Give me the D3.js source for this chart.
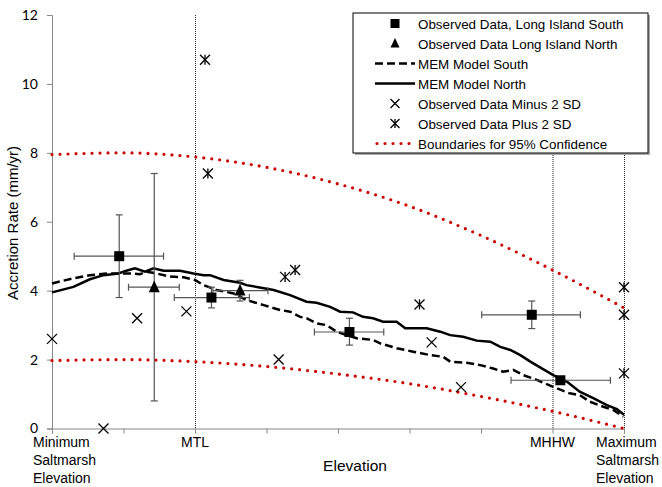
<!DOCTYPE html>
<html>
<head>
<meta charset="utf-8">
<script src="https://cdn.jsdelivr.net/npm/d3@7"></script>
<style>
  body { margin: 0; background: #fff; }
  svg { display: block; font-family: "Liberation Sans", Arial, sans-serif; }
</style>
</head>
<body>
<div id="chart"></div>
<script>
// observed data, Long Island South (squares)
const southElev = [0.94, 2.23, 4.16, 6.71, 7.11];
const southRate = [5.0, 3.8, 2.8, 3.3, 1.4];
const southElevLo = [0.31, 1.71, 3.67, 6.01, 6.42];
const southElevHi = [1.56, 2.76, 4.64, 7.39, 7.81];
const southRateLo = [3.8, 3.5, 2.42, 2.9, 1.3];
const southRateHi = [6.2, 4.1, 3.2, 3.7, 1.5];

// observed data, Long Island North (triangles)
const northElev = [1.43, 2.63];
const northRate = [4.1, 4.0];
const northElevLo = [1.07, 2.25];
const northElevHi = [1.78, 3.02];
const northRateLo = [0.8, 3.7];
const northRateHi = [7.4, 4.3];

// observed minus / plus 2 SD
const minusElev = [0, 0.72, 1.19, 1.88, 3.17, 5.31, 5.72];
const minusRate = [2.6, 0, 3.2, 3.4, 2.0, 2.5, 1.2];
const plusElev = [2.14, 2.18, 3.26, 3.40, 5.14, 8, 8, 8];
const plusRate = [10.7, 7.4, 4.4, 4.6, 3.6, 4.1, 3.3, 1.6];

// MEM model runs [elevation, rate]
const memNorth = [
  [0, 3.95], [0.30, 4.11], [0.53, 4.33], [0.72, 4.45], [0.93, 4.5], [1.04, 4.58],
  [1.16, 4.65], [1.30, 4.55], [1.42, 4.65], [1.56, 4.58], [1.79, 4.58], [1.98, 4.5],
  [2.12, 4.45], [2.21, 4.45], [2.40, 4.31], [2.63, 4.23], [2.72, 4.16], [3.10, 4.02],
  [3.33, 3.87], [3.56, 3.68], [3.70, 3.65], [3.89, 3.53], [4.03, 3.39], [4.21, 3.37],
  [4.35, 3.24], [4.49, 3.2], [4.63, 3.1], [4.82, 3.1], [4.94, 2.91], [5.24, 2.91],
  [5.43, 2.81], [5.57, 2.71], [5.75, 2.66], [5.94, 2.55], [6.13, 2.52], [6.27, 2.37],
  [6.41, 2.28], [6.55, 2.13], [6.69, 1.94], [7.01, 1.55], [7.20, 1.36], [7.38, 1.07],
  [7.57, 0.88], [7.76, 0.68], [7.90, 0.56], [8.0, 0.4]
];
const memSouth = [
  [0, 4.21], [0.30, 4.36], [0.53, 4.45], [0.77, 4.5], [1.09, 4.5], [1.23, 4.48],
  [1.32, 4.55], [1.46, 4.5], [1.65, 4.41], [1.84, 4.39], [2.0, 4.31], [2.12, 4.16],
  [2.30, 4.02], [2.54, 3.92], [2.72, 3.73], [2.96, 3.58], [3.19, 3.44], [3.33, 3.39],
  [3.47, 3.24], [3.56, 3.2], [3.70, 3.05], [3.84, 3.0], [3.98, 2.81], [4.26, 2.62],
  [4.49, 2.57], [4.59, 2.47], [4.82, 2.33], [5.05, 2.23], [5.29, 2.13], [5.47, 2.08],
  [5.57, 1.94], [5.80, 1.91], [5.99, 1.84], [6.17, 1.74], [6.31, 1.65], [6.45, 1.7],
  [6.59, 1.55], [6.78, 1.41], [7.01, 1.21], [7.24, 1.02], [7.38, 0.97], [7.52, 0.78],
  [7.71, 0.63], [7.85, 0.54], [7.99, 0.34]
];

// 95% confidence boundaries
const boundElev = [0, 1, 2, 3, 4, 5, 6, 7, 8];
const boundUpper = [7.95, 8.0, 7.88, 7.58, 7.1, 6.45, 5.6, 4.6, 3.5];
const boundLower = [1.97, 2.0, 1.94, 1.8, 1.58, 1.3, 0.93, 0.5, 0.0];

// axis ticks and elevation labels
const rateTicks = [0, 2, 4, 6, 8, 10, 12];
const elevTicks = [0, 1, 2, 3, 4, 5, 6, 7, 8];
const markElev = [0, 2, 7, 8];
const markLabels = [["Minimum", "Saltmarsh", "Elevation"], ["MTL"], ["MHHW"], ["Maximum", "Saltmarsh", "Elevation"]];
const refLineElev = [2, 7, 8];
const legendLabels = [
  "Observed Data, Long Island South",
  "Observed Data Long Island North",
  "MEM Model South",
  "MEM Model North",
  "Observed Data Minus 2 SD",
  "Observed Data Plus 2 SD",
  "Boundaries for 95% Confidence"
];

const width = 662, height = 487;
const margin = { top: 15, left: 52, bottom: 58.5, right: 38 };

const svg = d3.select("#chart").append("svg")
  .attr("width", width)
  .attr("height", height);

const x = d3.scaleLinear().domain([0, 8]).range([margin.left, width - margin.right]);
const y = d3.scaleLinear().domain([0, 12]).range([height - margin.bottom, margin.top]);

const axisColor = "#888";
const red = "#cc0000";
const barColor = "#555";

// reference verticals (MTL, MHHW, max)
svg.append("g").selectAll("line").data(refLineElev).join("line")
  .attr("x1", d => x(d) + 0.5).attr("x2", d => x(d) + 0.5)
  .attr("y1", y(12)).attr("y2", y(0))
  .attr("stroke", "#222").attr("stroke-width", 1)
  .attr("stroke-dasharray", "1,1");

// axes
const yAxis = svg.append("g")
  .attr("transform", `translate(${x(0)},0)`)
  .call(d3.axisLeft(y).tickValues(rateTicks).tickSize(5).tickPadding(9).tickFormat(d3.format("d")));
const xAxis = svg.append("g")
  .attr("transform", `translate(0,${y(0)})`)
  .call(d3.axisBottom(x).tickValues(elevTicks).tickSize(5).tickFormat(""));
[yAxis, xAxis].forEach(a => {
  a.select(".domain").attr("stroke", axisColor);
  a.selectAll(".tick line").attr("stroke", axisColor);
});
yAxis.selectAll(".tick text")
  .attr("font-family", "Lato, 'Open Sans', sans-serif")
  .attr("font-size", 14).attr("fill", "#000");

// elevation labels
const labels = svg.append("g").attr("font-size", 14).attr("fill", "#000");
markElev.forEach((e, i) => {
  const lines = markLabels[i];
  let anchor = "middle", dx = 0;
  if (i === 0) { anchor = "start"; dx = -19; }
  if (i === markElev.length - 1) { anchor = "start"; dx = -28; }
  const t = labels.append("text")
    .attr("x", x(e) + dx).attr("y", 447)
    .attr("text-anchor", anchor);
  lines.forEach((s, j) => {
    t.append("tspan").attr("x", x(e) + dx).attr("dy", j ? 18 : 0).text(s);
  });
});

// axis titles
svg.append("text")
  .attr("x", (x(0) + x(8)) / 2 + 17).attr("y", 471)
  .attr("text-anchor", "middle").attr("font-size", 15.5)
  .text("Elevation");
svg.append("text")
  .attr("transform", `translate(18,${223}) rotate(-90)`)
  .attr("text-anchor", "middle").attr("font-size", 15)
  .text("Accretion Rate (mm/yr)");

// confidence bounds
const line = d3.line().x(d => x(d[0])).y(d => y(d[1]));
const smooth = d3.line().x(d => x(d[0])).y(d => y(d[1])).curve(d3.curveMonotoneX);
[boundUpper, boundLower].forEach(b => {
  svg.append("path")
    .datum(boundElev.map((e, i) => [e, b[i]]))
    .attr("d", smooth)
    .attr("fill", "none").attr("stroke", red)
    .attr("stroke-width", 3.2).attr("stroke-linecap", "round")
    .attr("stroke-dasharray", "0,8");
});

// MEM models
svg.append("path").datum(memSouth).attr("d", line)
  .attr("fill", "none").attr("stroke", "#000").attr("stroke-width", 2.5)
  .attr("stroke-dasharray", "8,4");
svg.append("path").datum(memNorth).attr("d", line)
  .attr("fill", "none").attr("stroke", "#000").attr("stroke-width", 2.5);

// error bars
function errorBars(elev, rate, eLo, eHi, rLo, rHi) {
  const g = svg.append("g").attr("stroke", barColor).attr("stroke-width", 1.2);
  elev.forEach((e, i) => {
    const cx = x(e), cy = y(rate[i]);
    g.append("line").attr("x1", x(eLo[i])).attr("x2", x(eHi[i])).attr("y1", cy).attr("y2", cy);
    g.append("line").attr("x1", x(eLo[i])).attr("x2", x(eLo[i])).attr("y1", cy - 3.5).attr("y2", cy + 3.5);
    g.append("line").attr("x1", x(eHi[i])).attr("x2", x(eHi[i])).attr("y1", cy - 3.5).attr("y2", cy + 3.5);
    g.append("line").attr("x1", cx).attr("x2", cx).attr("y1", y(rLo[i])).attr("y2", y(rHi[i]));
    g.append("line").attr("x1", cx - 3.5).attr("x2", cx + 3.5).attr("y1", y(rLo[i])).attr("y2", y(rLo[i]));
    g.append("line").attr("x1", cx - 3.5).attr("x2", cx + 3.5).attr("y1", y(rHi[i])).attr("y2", y(rHi[i]));
  });
}
errorBars(southElev, southRate, southElevLo, southElevHi, southRateLo, southRateHi);
errorBars(northElev, northRate, northElevLo, northElevHi, northRateLo, northRateHi);

// marker shapes
function square(g, cx, cy, s) {
  g.append("rect").attr("x", cx - s / 2).attr("y", cy - s / 2)
    .attr("width", s).attr("height", s).attr("fill", "#000");
}
function triangle(g, cx, cy, s) {
  g.append("path")
    .attr("d", `M${cx},${cy - s * 0.6}L${cx + s / 2},${cy + s * 0.45}L${cx - s / 2},${cy + s * 0.45}Z`)
    .attr("fill", "#000");
}
function cross(g, cx, cy, s) {
  const h = s / 2;
  g.append("path").attr("d", `M${cx - h},${cy - h}L${cx + h},${cy + h}M${cx - h},${cy + h}L${cx + h},${cy - h}`)
    .attr("stroke", "#000").attr("stroke-width", 1.3).attr("fill", "none");
}
function star(g, cx, cy, s) {
  cross(g, cx, cy, s);
  g.append("path").attr("d", `M${cx},${cy - s / 2}L${cx},${cy + s / 2}`)
    .attr("stroke", "#000").attr("stroke-width", 1.3);
}

const marks = svg.append("g");
southElev.forEach((e, i) => square(marks, x(e), y(southRate[i]), 10));
northElev.forEach((e, i) => triangle(marks, x(e), y(northRate[i]), 11));
minusElev.forEach((e, i) => cross(marks, x(e), y(minusRate[i]), 10));
plusElev.forEach((e, i) => star(marks, x(e), y(plusRate[i]), 10));

// legend
const lg = svg.append("g").attr("transform", "translate(353,13)");
lg.append("rect").attr("x", 2).attr("y", 2).attr("width", 295).attr("height", 140).attr("fill", "#aaa");
lg.append("rect").attr("x", 0).attr("y", 0).attr("width", 295).attr("height", 140)
  .attr("fill", "#fff").attr("stroke", "#000").attr("stroke-width", 1);
legendLabels.forEach((s, i) => {
  const cy = 10.5 + i * 20;
  lg.append("text").attr("x", 65).attr("y", cy + 5).attr("font-size", 13.4).text(s);
  if (i === 0) square(lg, 42, cy, 9);
  if (i === 1) triangle(lg, 42, cy, 9);
  if (i === 2) lg.append("line").attr("x1", 22).attr("x2", 62).attr("y1", cy).attr("y2", cy)
    .attr("stroke", "#000").attr("stroke-width", 2.5).attr("stroke-dasharray", "8,4");
  if (i === 3) lg.append("line").attr("x1", 22).attr("x2", 62).attr("y1", cy).attr("y2", cy)
    .attr("stroke", "#000").attr("stroke-width", 2.5);
  if (i === 4) cross(lg, 42, cy, 9);
  if (i === 5) star(lg, 42, cy, 9);
  if (i === 6) lg.append("line").attr("x1", 24).attr("x2", 62).attr("y1", cy).attr("y2", cy)
    .attr("stroke", red).attr("stroke-width", 3.2).attr("stroke-linecap", "round")
    .attr("stroke-dasharray", "0,8");
});
</script>
</body>
</html>
